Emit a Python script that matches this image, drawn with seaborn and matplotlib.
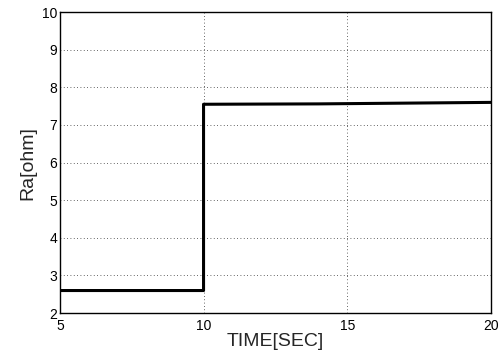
import matplotlib
matplotlib.use("Agg")
import matplotlib.pyplot as plt
import seaborn as sns
import pandas as pd

time_sec = [5, 10, 10, 14, 20]
ra_ohm = [2.6, 2.6, 7.55, 7.56, 7.6]
x_ticks = [5, 10, 15, 20]
y_ticks = [2, 3, 4, 5, 6, 7, 8, 9, 10]

sns.set_style("white")
plt.rcParams['font.family'] = ['Liberation Sans', 'DejaVu Sans']

df = pd.DataFrame({"t": time_sec, "ra": ra_ohm})

fig = plt.figure(figsize=(5.03, 3.55), dpi=100)
ax = fig.add_axes([0.119, 0.118, 0.857, 0.848])
sns.lineplot(data=df, x="t", y="ra", ax=ax, color="black", linewidth=2.2,
             estimator=None, sort=False)
ax.set_xlim(5, 20)
ax.set_ylim(2, 10)
ax.set_xticks(x_ticks)
ax.set_yticks(y_ticks)
ax.grid(True, linestyle=(0, (1, 3)), color="#333333", linewidth=0.6)
ax.tick_params(direction="in", length=3, labelsize=10, colors="black")
ax.tick_params(axis="x", pad=4)
ax.tick_params(axis="y", pad=2)
for s in ax.spines.values():
    s.set_color("black")
    s.set_linewidth(1.0)
ax.set_xlabel("TIME[SEC]", fontsize=14, labelpad=0)
ax.set_ylabel("Ra[ohm]", fontsize=14, labelpad=4)
fig.savefig("out.png", dpi=100)
